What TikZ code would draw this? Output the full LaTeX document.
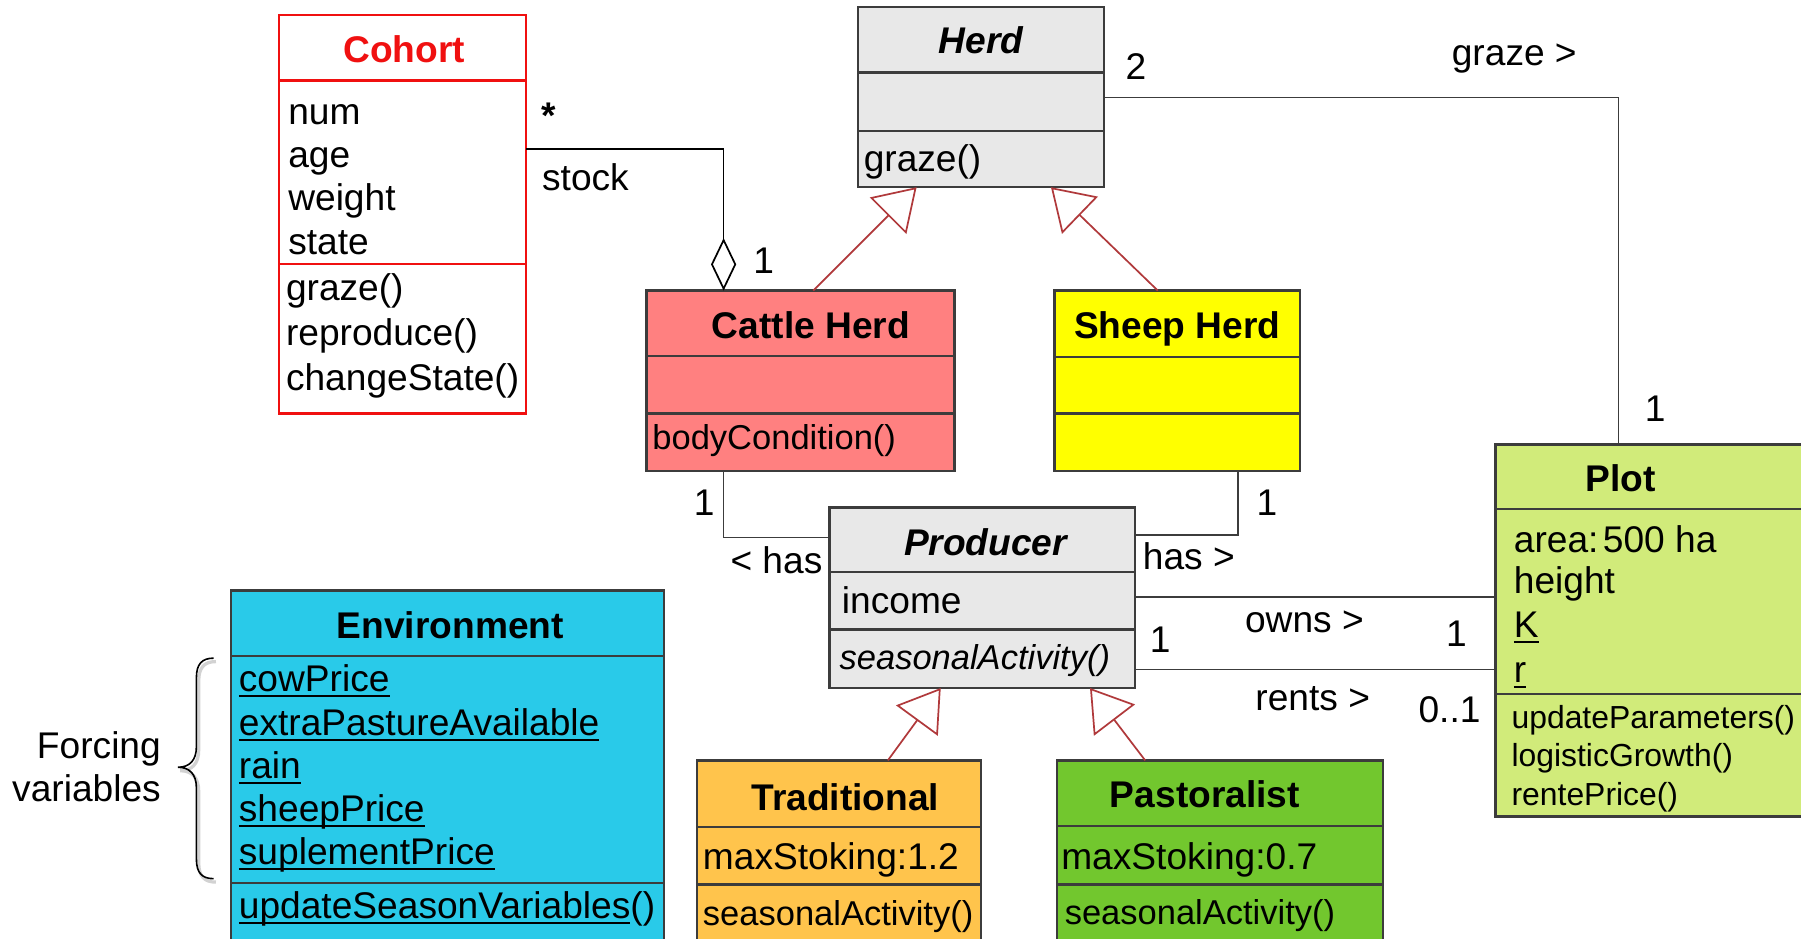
\documentclass[tikz,border=0pt]{standalone}
\usepackage{fontspec}
\setmainfont{Liberation Sans}
\usetikzlibrary{arrows.meta,calc}

\definecolor{edgegray}{HTML}{3C3C3C}
\definecolor{cohortred}{HTML}{F01010}
\definecolor{abstractgray}{HTML}{E8E8E8}
\definecolor{cattlefill}{HTML}{FF8080}
\definecolor{sheepfill}{HTML}{FFFF00}
\definecolor{tradfill}{HTML}{FFC44C}
\definecolor{pastfill}{HTML}{72C72E}
\definecolor{envfill}{HTML}{29CAE9}
\definecolor{plotfill}{HTML}{D1EB7A}
\definecolor{genred}{HTML}{B0393B}

% text sizes (1 unit = 0.02cm)
\newcommand\fbody{\fontsize{18.4}{21}\selectfont}
\newcommand\fsmall{\fontsize{17.1}{20}\selectfont}
\newcommand\ftiny{\fontsize{15.8}{18}\selectfont}
% thick underline used for static members
\newcommand\ulin[1]{\setbox0\hbox{#1}\rlap{\rule[-0.15em]{\wd0}{0.055em}}\box0}

% class box: name, x1, y1, x2, y2, fill, border, divider1, divider2
\newcommand\umlclass[9]{%
  \node[classbox, draw=#7, fill=#6,
        minimum width={(#4-#2)*0.02cm}, minimum height={(#5-#3)*0.02cm}]
        (#1) at ({(#2+#4)/2},{(#3+#5)/2}) {};
  \draw[divider, draw=#7] (#2,#8) -- (#4,#8);
  \draw[divider, draw=#7] (#2,#9) -- (#4,#9);
}

\begin{document}
\begin{tikzpicture}[x=0.02cm, y=-0.02cm,
  classbox/.style={rectangle, line width=1.2pt, inner sep=0pt, outer sep=0pt},
  divider/.style={line width=1.2pt},
  t/.style={inner sep=0pt, outer sep=0pt, font=\fbody, anchor=base west},
  ttl/.style={inner sep=0pt, outer sep=0pt, font=\fbody\bfseries, anchor=base},
  assoc/.style={draw=edgegray, line width=0.85pt},
  gen/.style={draw=genred, line width=0.85pt,
              -{Triangle[open, length=20pt, width=25.5pt]}},
  agg/.style={draw=black, line width=0.85pt,
              -{Diamond[open, length=26pt, width=12.5pt]}}
]
\path[use as bounding box] (0,0) rectangle (1568,817);
\clip (0,0) rectangle (1568,817);
\fill[white] (0,0) rectangle (1568,817);

% ---------- classes ----------
\umlclass{cohort}{243}{13}{458}{360}{white}{cohortred}{70}{230}
\umlclass{herd}{747}{6}{961}{163}{abstractgray}{edgegray}{63}{114}
\umlclass{cattle}{563}{253}{831}{410}{cattlefill}{edgegray}{310}{360}
\umlclass{sheep}{918}{253}{1132}{410}{sheepfill}{edgegray}{311}{360}
\umlclass{producer}{722}{442}{988}{599}{abstractgray}{edgegray}{498}{548}
\umlclass{trad}{607}{662}{854}{840}{tradfill}{edgegray}{720}{770}
\umlclass{past}{920}{662}{1204}{840}{pastfill}{edgegray}{719}{770}
\umlclass{env}{201}{514}{578}{840}{envfill}{edgegray}{571}{769}
\umlclass{plot}{1302}{387}{1620}{711}{plotfill}{edgegray}{443}{604}

% ---------- Cohort ----------
\node[ttl, text=cohortred] (cohortT) at (352,54) {Cohort};
\node[t] (cohortA1) at (251,108) {num};
\node[t] (cohortA2) at (251,146) {age};
\node[t] (cohortA3) at (251,183) {weight};
\node[t] (cohortA4) at (251,222) {state};
\node[t] (cohortM1) at (249,262) {graze()};
\node[t] (cohortM2) at (249,301) {reproduce()};
\node[t] (cohortM3) at (249,340) {changeState()};

% ---------- Herd ----------
\node[ttl, font=\fbody\bfseries\itshape] (herdT) at (854,47) {Herd};
\node[t] (herdM1) at (752,149) {graze()};

% ---------- Cattle Herd ----------
\node[ttl] (cattleT) at (706,295) {Cattle Herd};
\node[t, font=\fsmall] (cattleM1) at (568,391) {bodyCondition()};

% ---------- Sheep Herd ----------
\node[ttl] (sheepT) at (1025,295) {Sheep Herd};

% ---------- Producer ----------
\node[ttl, font=\fbody\bfseries\itshape] (producerT) at (858,484) {Producer};
\node[t] (producerA1) at (733,534) {income};
\node[t, font=\fsmall\itshape] (producerM1) at (731,583) {seasonalActivity()};

% ---------- Traditional ----------
\node[ttl] (tradT) at (736,706) {Traditional};
\node[t] (tradA1) at (612,757) {maxStoking:1.2};
\node[t, font=\fsmall] (tradM1) at (612,806) {seasonalActivity()};

% ---------- Pastoralist ----------
\node[ttl] (pastT) at (1049,703) {Pastoralist};
\node[t] (pastA1) at (924,757) {maxStoking:0.7};
\node[t, font=\fsmall] (pastM1) at (927,805) {seasonalActivity()};

% ---------- Environment ----------
\node[ttl] (envT) at (392,556) {Environment};
\node[t] (envA1) at (208,602) {\ulin{cowPrice}};
\node[t] (envA2) at (208,640) {\ulin{extraPastureAvailable}};
\node[t] (envA3) at (208,678) {\ulin{rain}};
\node[t] (envA4) at (208,715) {\ulin{sheepPrice}};
\node[t] (envA5) at (208,753) {\ulin{suplementPrice}};
\node[t] (envM1) at (208,800) {\ulin{updateSeasonVariables}()};

% ---------- Plot ----------
\node[ttl] (plotT) at (1411,428) {Plot};
\node[t] (plotA1) at (1318,481) {area:\hspace{0.12em}500 ha};
\node[t] (plotA2) at (1318,517) {height};
\node[t] (plotA3) at (1318,555) {\ulin{K}};
\node[t] (plotA4) at (1318,594) {\ulin{r}};
\node[t, font=\ftiny] (plotM1) at (1316,634) {updateParameters()};
\node[t, font=\ftiny] (plotM2) at (1316,667) {logisticGrowth()};
\node[t, font=\ftiny] (plotM3) at (1316,701) {rentePrice()};

% ---------- associations ----------
\draw[agg] ($(cohort.north east)+(0,117)$) -| ($(cattle.north west)+(67,0)$);
\draw[assoc] ($(herd.north east)+(0,79)$) -| ($(plot.north west)+(107,0)$);
\draw[assoc] ($(cattle.south west)+(67,0)$) |- ($(producer.north west)+(0,26)$);
\draw[assoc] ($(sheep.south west)+(160,0)$) |- ($(producer.north east)+(0,24)$);
\draw[assoc] ($(producer.north east)+(0,78)$) -- ($(plot.north west)+(0,133)$);
\draw[assoc] ($(producer.north east)+(0,141)$) -- ($(plot.north west)+(0,196)$);

% ---------- generalizations ----------
\draw[gen] ($(cattle.north west)+(145,0)$) -- ($(herd.south west)+(51,0)$);
\draw[gen] ($(sheep.north west)+(90,0)$) -- ($(herd.south west)+(168,0)$);
\draw[gen] ($(trad.north west)+(166,0)$) -- ($(producer.south west)+(97,0)$);
\draw[gen] ($(past.north west)+(77,0)$) -- ($(producer.south west)+(227,0)$);

% ---------- association labels ----------
\node[t, anchor=base, font=\fbody\bfseries] (lStar) at (478,112) {*};
\node[t] (lStock) at (472,166) {stock};
\node[t] (lOne1) at (656,238) {1};
\node[t] (lTwo) at (980,69) {2};
\node[t] (lGraze) at (1264,57) {graze >};
\node[t] (lOne2) at (1432,367) {1};
\node[t] (lOne3) at (604,449) {1};
\node[t] (lHasL) at (636,499) {< has};
\node[t] (lOne4) at (1094,449) {1};
\node[t] (lHasR) at (995,496) {has >};
\node[t] (lOwns) at (1084,551) {owns >};
\node[t] (lOne5) at (1259,563) {1};
\node[t] (lOne6) at (1001,568) {1};
\node[t] (lRents) at (1093,619) {rents >};
\node[t] (lZeroOne) at (1235,629) {0..1};

% ---------- forcing variables brace ----------
\node[t, anchor=base east] (forcing1) at (140,660) {Forcing};
\node[t, anchor=base east] (forcing2) at (140,698) {variables};
\draw[gray!35, line width=1.6pt, shift={(2,3)}]
  (186,573) .. controls (176,573) and (171,578) .. (171,590) -- (171,650)
  .. controls (171,662) and (165,668) .. (155,668)
  .. controls (165,668) and (171,674) .. (171,686) -- (171,748)
  .. controls (171,760) and (176,765) .. (186,765);
\draw[black, line width=0.8pt]
  (186,573) .. controls (176,573) and (171,578) .. (171,590) -- (171,650)
  .. controls (171,662) and (165,668) .. (155,668)
  .. controls (165,668) and (171,674) .. (171,686) -- (171,748)
  .. controls (171,760) and (176,765) .. (186,765);
\end{tikzpicture}
\end{document}
